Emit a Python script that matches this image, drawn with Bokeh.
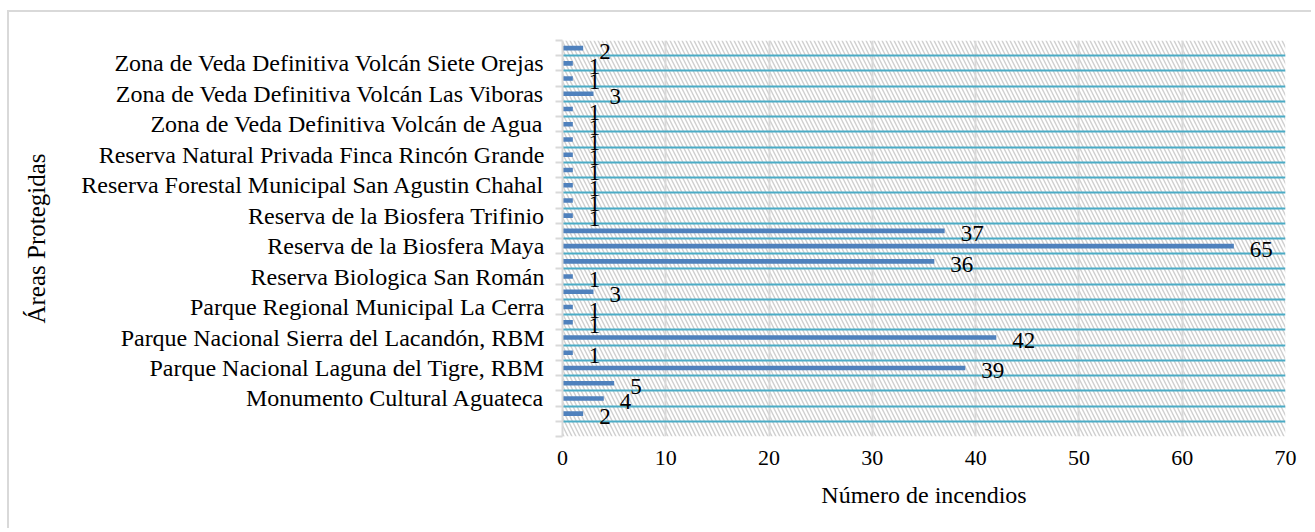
from bokeh.plotting import figure
from bokeh.models import Range1d, FixedTicker, ColumnDataSource
from bokeh.core.properties import value
from bokeh.embed import file_html
from bokeh.resources import INLINE

# ---- data (bottom to top) ----
areas = ["", "", "Monumento Cultural Aguateca", "",
         "Parque Nacional Laguna del Tigre, RBM", "",
         "Parque Nacional Sierra del Lacandón, RBM", "",
         "Parque Regional Municipal La Cerra", "",
         "Reserva Biologica San Román", "",
         "Reserva de la Biosfera Maya", "",
         "Reserva de la Biosfera Trifinio", "",
         "Reserva Forestal Municipal San Agustin Chahal", "",
         "Reserva Natural Privada Finca Rincón Grande", "",
         "Zona de Veda Definitiva Volcán de Agua", "",
         "Zona de Veda Definitiva Volcán Las Viboras", "",
         "Zona de Veda Definitiva Volcán Siete Orejas", ""]
incendios = [None, 2, 4, 5, 39, 1, 42, 1, 1, 3, 1, 36, 65, 37,
             1, 1, 1, 1, 1, 1, 1, 1, 3, 1, 1, 2]
x_ticks = [0, 10, 20, 30, 40, 50, 60, 70]
x_title = "Número de incendios"
y_title = "Áreas Protegidas"

FONT = "Liberation Serif"
n = len(areas)
pos = list(range(n))
bar_pos = [i for i in pos if incendios[i] is not None]
bar_val = [incendios[i] for i in bar_pos]
src = ColumnDataSource(dict(y=bar_pos, v=bar_val, t=[str(v) for v in bar_val]))

p = figure(width=1304, height=518, output_backend="svg", toolbar_location=None,
           x_range=Range1d(x_ticks[0], x_ticks[-1]), y_range=Range1d(-0.5, n - 0.5),
           min_border_left=553, min_border_right=28, min_border_top=28, min_border_bottom=94)
p.outline_line_color = None
p.background_fill_color = "white"
p.border_fill_color = "white"
p.styles = {"border-top": "2px solid #d9d9d9", "border-left": "2px solid #d9d9d9",
            "margin-left": "7px", "margin-top": "10px"}

# hatched plot-area background
p.quad(left=x_ticks[0], right=x_ticks[-1], bottom=-0.5, top=n - 0.5,
       fill_color="white", line_color=None, hatch_pattern="\\", hatch_color="#cfcfcf",
       hatch_scale=8, hatch_weight=1.4, level="image")

# grids
p.xgrid.ticker = FixedTicker(ticks=x_ticks)
p.xgrid.grid_line_color = "#d9d9d9"
p.xgrid.grid_line_width = 2
bounds = [i - 0.5 for i in range(n + 1)]
p.ygrid.ticker = FixedTicker(ticks=bounds)
p.ygrid.grid_line_color = "#4bacc6"
p.ygrid.grid_line_width = 2

# bars
p.hbar(y="y", right="v", left=0, height=0.3, source=src,
       fill_color="#4f81bd", line_color=None)
p.text(x="v", y="y", text="t", source=src, x_offset=16, y_offset=3,
       text_font=value(FONT), text_font_size="23px", text_color="black",
       text_baseline="middle", text_align="left")

# x axis
p.xaxis.ticker = FixedTicker(ticks=x_ticks)
p.xaxis.axis_line_color = None
p.xaxis.major_tick_line_color = None
p.xaxis.major_tick_out = 0
p.xaxis.major_tick_in = 0
p.xaxis.minor_tick_line_color = None
p.xaxis.major_label_text_font = FONT
p.xaxis.major_label_text_font_size = "22px"
p.xaxis.major_label_text_color = "black"
p.xaxis.major_label_standoff = 14
p.xaxis.axis_label = x_title
p.xaxis.axis_label_text_font = FONT
p.xaxis.axis_label_text_font_size = "24px"
p.xaxis.axis_label_text_font_style = "normal"
p.xaxis.axis_label_text_color = "black"
p.xaxis.axis_label_standoff = 14

# y axis
lab_pos = [i for i in pos if areas[i]]
p.yaxis.ticker = FixedTicker(ticks=lab_pos, minor_ticks=bounds)
p.yaxis.major_label_overrides = {i: areas[i] for i in lab_pos}
p.yaxis.axis_line_color = "#d9d9d9"
p.yaxis.axis_line_width = 2
p.yaxis.major_tick_line_color = None
p.yaxis.minor_tick_line_color = "#d9d9d9"
p.yaxis.minor_tick_line_width = 2
p.yaxis.minor_tick_out = 7
p.yaxis.minor_tick_in = 0
p.yaxis.major_label_text_font = FONT
p.yaxis.major_label_text_font_size = "24px"
p.yaxis.major_label_text_color = "black"
p.yaxis.major_label_standoff = 11
p.yaxis.axis_label = y_title
p.yaxis.axis_label_text_font = FONT
p.yaxis.axis_label_text_font_size = "25px"
p.yaxis.axis_label_text_font_style = "normal"
p.yaxis.axis_label_text_color = "black"
p.yaxis.axis_label_standoff = 28

open("out.html", "w").write(file_html(p, INLINE))
